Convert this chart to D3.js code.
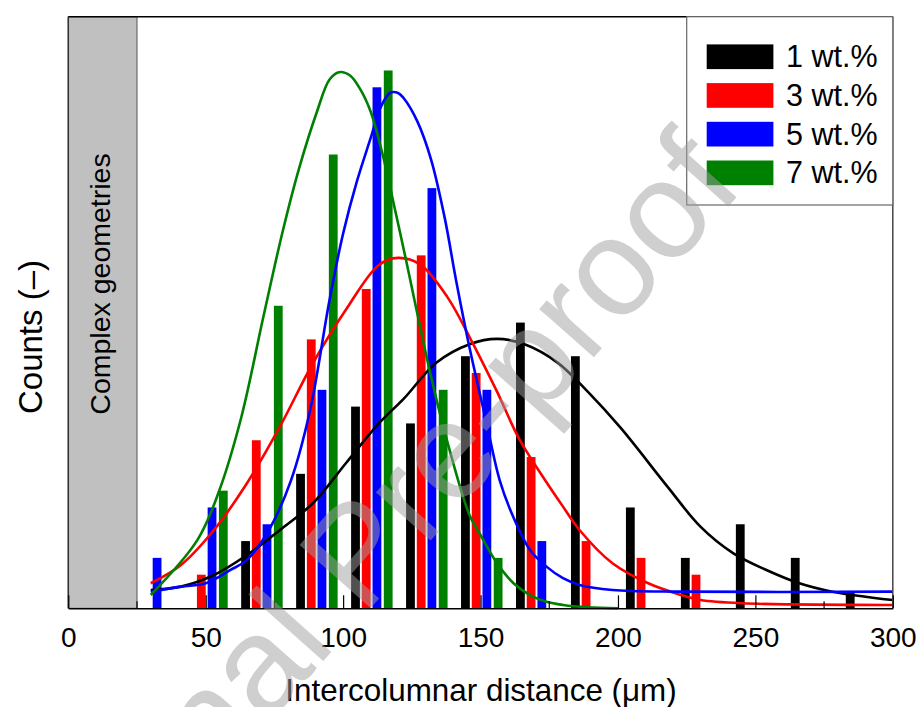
<!DOCTYPE html>
<html>
<head>
<meta charset="utf-8">
<script src="https://cdn.jsdelivr.net/npm/d3@7"></script>
<style>
  html, body { margin: 0; padding: 0; background: #fff; }
  svg { display: block; font-family: "Liberation Sans", Arial, Helvetica, sans-serif; }
</style>
</head>
<body>
<svg id="chart" width="923" height="707"></svg>
<script>
// Histogram bins (centre of each 20 µm class)
const bins = [30, 50, 70, 90, 110, 130, 150, 170, 190, 210, 230, 250, 270, 290];

// Counts per bin for each CNT loading
const counts1 = [0, 0, 4, 8, 12, 11, 15, 17, 15, 6, 3, 5, 3, 1];
const counts3 = [0, 2, 10, 16, 19, 21, 14, 9, 4, 3, 2, 0, 0, 0];
const counts5 = [3, 6, 5, 13, 31, 25, 13, 4, 0, 0, 0, 0, 0, 0];
const counts7 = [0, 7, 18, 27, 32, 13, 3, 0, 0, 0, 0, 0, 0, 0];

// Distribution fits, sampled as [distance, counts]
const fit1 = [[30,1.09],[41,1.29],[53,1.98],[65,3.17],[77,4.66],[89,6.25],[101,8.63],[113,11.0],[122,12.46],[134,14.62],[146,15.71],[156,16.03],[166,15.71],[178,14.62],[189,12.89],[201,10.73],[218,7.24],[230,4.86],[242,3.27],[254,2.28],[266,1.49],[278,0.99],[300,0.49]];
const fit3 = [[30,1.49],[41,2.58],[53,4.66],[65,7.44],[77,10.81],[89,14.58],[101,17.76],[113,20.43],[120,20.85],[128,20.46],[138,18.5],[146,16.14],[156,12.89],[164,10.1],[174,7.5],[180,6.05],[186,4.66],[198,2.68],[211,1.49],[223,0.79],[230,0.49],[245,0.3],[300,0.2]];
const fit5 = [[30,0.99],[41,1.29],[50,1.49],[59,2.28],[65,2.88],[73,4.66],[81,7.6],[88,11.8],[95,18.3],[100,22.3],[105,25.4],[110,27.97],[113.5,29.75],[117,30.66],[120,30.66],[122,30.36],[127,28.97],[132,26.7],[137,23.2],[141,19.6],[146,15.5],[152,11.16],[157,7.6],[162,5.4],[168,3.47],[174,2.48],[180,1.79],[186,1.39],[198,1.09],[223,0.99],[300,0.99]];
const fit7 = [[30,0.79],[47,4.07],[55,7.04],[63,11.4],[71,17.36],[78,22.42],[84,26.19],[90.5,29.56],[95,31.45],[98.5,31.9],[102.5,31.7],[106,30.95],[110,29.56],[115,26.58],[118.5,24.0],[123,20.63],[126,18.3],[132,13.77],[138,9.86],[146,5.54],[150,4.36],[156,2.68],[162,1.49],[168,0.79],[174,0.39],[180,0.2],[189,0.06],[200,0]];

const seriesNames = ["1 wt.%", "3 wt.%", "5 wt.%", "7 wt.%"];
const seriesColors = ["#000000", "#ff0000", "#0000ff", "#008000"];
const xTicks = [0, 50, 100, 150, 200, 250, 300];
const xMinorTicks = [25, 75, 125, 175, 225, 275];
const complexLimit = 25;   // below this distance the geometry is not measurable

const series = [counts1, counts3, counts5, counts7];
const fits = [fit1, fit3, fit5, fit7];
const barOffsets = [-5.5, -1.6, 2.3, 6.4];
const barWidth = 3.2;

const svg = d3.select("#chart");
const x = d3.scaleLinear().domain([0, 300]).range([68.3, 892.8]);
const y = d3.scaleLinear().domain([0, 35.2]).range([608.3, 16.7]);
const fontStack = '"Liberation Sans", Arial, Helvetica, sans-serif';

// Plot background
svg.append("rect")
  .attr("x", x(0)).attr("y", y(35.2))
  .attr("width", x(300) - x(0)).attr("height", y(0) - y(35.2))
  .attr("fill", "#fff");

// Shaded region of complex geometries
svg.append("rect")
  .attr("x", x(0)).attr("y", y(35.2))
  .attr("width", x(complexLimit) - x(0)).attr("height", y(0) - y(35.2))
  .attr("fill", "#c0c0c0").attr("stroke", "#555").attr("stroke-width", 1);

svg.append("text")
  .attr("transform", "translate(110,284) rotate(-90)")
  .attr("text-anchor", "middle")
  .attr("font-size", 28.5)
  .attr("fill", "#000")
  .text("Complex geometries");

// Bars
series.forEach((vals, si) => {
  svg.append("g").selectAll("rect")
    .data(bins.map((b, i) => ({ b, v: vals[i] })).filter(d => d.v > 0))
    .join("rect")
    .attr("x", d => x(d.b + barOffsets[si] - barWidth / 2))
    .attr("width", d => x(d.b + barOffsets[si] + barWidth / 2) - x(d.b + barOffsets[si] - barWidth / 2))
    .attr("y", d => y(d.v))
    .attr("height", d => y(0) - y(d.v))
    .attr("fill", seriesColors[si]);
});

// Fitted distributions
const line = d3.line().x(d => x(d[0])).y(d => y(d[1])).curve(d3.curveCatmullRom.alpha(0.5));
fits.forEach((f, si) => {
  svg.append("path")
    .attr("d", line(f))
    .attr("fill", "none")
    .attr("stroke", seriesColors[si])
    .attr("stroke-width", 2.6)
    .attr("stroke-linejoin", "round");
});

// Frame
svg.append("line").attr("x1", x(0)).attr("x2", x(300)).attr("y1", y(35.2)).attr("y2", y(35.2))
  .attr("stroke", "#000").attr("stroke-width", 1.5);
svg.append("line").attr("x1", x(0)).attr("x2", x(0)).attr("y1", y(35.2)).attr("y2", y(0))
  .attr("stroke", "#333").attr("stroke-width", 1.5);
svg.append("line").attr("x1", x(300)).attr("x2", x(300)).attr("y1", y(35.2)).attr("y2", y(0))
  .attr("stroke", "#444").attr("stroke-width", 1.5);

// X axis with inward ticks
const xAxis = d3.axisBottom(x).tickValues(xTicks).tickSizeInner(-13).tickSizeOuter(0).tickPadding(19);
const gx = svg.append("g").attr("transform", `translate(0,${y(0)})`).call(xAxis);
gx.select(".domain").attr("stroke", "#000").attr("stroke-width", 1.5);
gx.selectAll(".tick line").attr("stroke", "#000").attr("stroke-width", 1.2);
gx.selectAll(".tick text").attr("font-size", 28).attr("font-family", fontStack).attr("fill", "#000");
svg.append("g").selectAll("line").data(xMinorTicks).join("line")
  .attr("x1", d => x(d)).attr("x2", d => x(d))
  .attr("y1", y(0)).attr("y2", y(0) - 7)
  .attr("stroke", "#000").attr("stroke-width", 1.2);

// Axis titles
svg.append("text")
  .attr("x", 481).attr("y", 701)
  .attr("text-anchor", "middle").attr("font-size", 31.4).attr("fill", "#000")
  .text("Intercolumnar distance (μm)");
svg.append("text")
  .attr("transform", "translate(41.5,337) rotate(-90)")
  .attr("text-anchor", "middle").attr("font-size", 33).attr("fill", "#000")
  .text("Counts (–)");

// Legend
const legend = svg.append("g");
legend.append("rect")
  .attr("x", 686.7).attr("y", y(35.2)).attr("width", x(300) - 686.7).attr("height", 205 - y(35.2))
  .attr("fill", "#fff").attr("stroke", "#666").attr("stroke-width", 1.2);
seriesNames.forEach((name, i) => {
  const cy = 56.7 + i * 38.7;
  legend.append("rect")
    .attr("x", 706.7).attr("y", cy - 12.3).attr("width", 66.7).attr("height", 24.7)
    .attr("fill", seriesColors[i]);
  legend.append("text")
    .attr("x", 786).attr("y", cy + 10.5)
    .attr("font-size", 30.5).attr("fill", "#000")
    .text(name);
});

// Watermark
svg.append("text")
  .attr("transform", "translate(391,585) rotate(-48.3)")
  .attr("text-anchor", "middle")
  .attr("font-size", 138)
  .attr("fill", "#a0a0a0").attr("fill-opacity", 0.5)
  .text("Journal Pre-proof");
</script>
</body>
</html>
